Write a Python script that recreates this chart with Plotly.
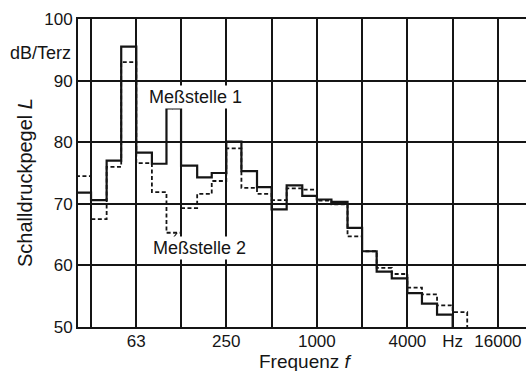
import plotly.graph_objects as go
import math

# Third-octave band lower edges (Hz)
band_lower = [25, 31.5, 40, 50, 63, 80, 100, 125, 160, 200, 250, 315, 400, 500,
              630, 800, 1000, 1250, 1600, 2000, 2500, 3150, 4000, 5000, 6300,
              8000, 10000]

# Meßstelle 1 (solid) levels, dB per third-octave band
level_1 = [71.8, 70.6, 77.0, 95.5, 78.3, 76.5, 85.5, 76.2, 74.3, 75.0, 80.1,
           75.3, 72.7, 69.1, 73.0, 71.3, 70.7, 70.3, 66.1, 62.3, 59.0, 57.9,
           55.5, 53.8, 52.0]
# Meßstelle 2 (dashed)
level_2 = [74.5, 67.5, 76.0, 93.0, 76.6, 71.9, 65.3, 69.3, 71.6, 73.7, 79.0,
           72.6, 71.6, 70.6, 72.5, 72.3, 70.5, 69.9, 64.7, 62.3, 59.6, 58.6,
           56.4, 55.3, 53.5, 52.4]
floor_level = 50

grid_freqs = [31.5, 63, 125, 250, 500, 1000, 2000, 4000, 8000, 16000]
grid_text = ["", "63", "", "250", "", "1000", "", "4000", "Hz", "16000"]
y_ticks = [50, 60, 70, 80, 90, 100]

FONT = "Liberation Sans"
INK = "#151515"


def step_xy(levels):
    n = len(levels)
    xs = band_lower[:n] + [band_lower[n]]
    ys = levels + [floor_level]
    return xs, ys


fig = go.Figure()
x1, y1 = step_xy(level_1)
x2, y2 = step_xy(level_2)
fig.add_trace(go.Scatter(x=x2, y=y2, mode="lines", line_shape="hv",
                         line=dict(color=INK, width=1.8, dash="4px,2.5px"),
                         name="Meßstelle 2"))
fig.add_trace(go.Scatter(x=x1, y=y1, mode="lines", line_shape="hv",
                         line=dict(color=INK, width=2.2),
                         name="Meßstelle 1"))

W, H = 526, 371
ml, mt, mb, mr = 78, 19, 44, 0
pw, ph = W - ml - mr, H - mt - mb


def px(x):
    return (x - ml) / pw


def py(y):
    return (H - mb - y) / ph


fig.update_layout(
    width=W, height=H,
    margin=dict(l=ml, r=mr, t=mt, b=mb, pad=0),
    paper_bgcolor="white", plot_bgcolor="white",
    showlegend=False,
    font=dict(family=FONT, size=17, color=INK),
    xaxis=dict(type="log",
               range=[math.log10(25.8), math.log10(24600)],
               tickvals=grid_freqs, ticktext=grid_text,
               showgrid=True, gridcolor=INK, gridwidth=1.5,
               showline=True, linecolor=INK, linewidth=2, mirror=True,
               ticks="", zeroline=False, ticklabelstandoff=-2,
               tickfont=dict(size=17)),
    yaxis=dict(range=[50, 100], tickvals=y_ticks,
               showgrid=True, gridcolor=INK, gridwidth=1.5,
               showline=True, linecolor=INK, linewidth=2,
               ticks="", zeroline=False,
               tickfont=dict(size=17)),
)

# Axis titles as positioned texts
fig.add_annotation(text="Frequenz <i>f</i>", xref="paper", yref="paper",
                   x=px(305), y=py(362), xanchor="center", yanchor="middle",
                   showarrow=False, font=dict(size=19))
fig.add_annotation(text="Schalldruckpegel <i>L</i>", xref="paper", yref="paper",
                   x=px(25), y=py(183), xanchor="center", yanchor="middle",
                   textangle=-90, showarrow=False, font=dict(size=20))

fig.add_annotation(text="dB/Terz", xref="paper", yref="paper",
                   x=px(73), y=py(53), xanchor="right", yanchor="middle",
                   showarrow=False, font=dict(size=18))
fig.add_annotation(text="Meßstelle 1", xref="paper", yref="paper",
                   x=px(195), y=py(97), xanchor="center", yanchor="middle",
                   showarrow=False, font=dict(size=18), bgcolor="white", borderpad=1)
fig.add_annotation(text="Meßstelle 2", xref="paper", yref="paper",
                   x=px(199), y=py(248), xanchor="center", yanchor="middle",
                   showarrow=False, font=dict(size=18), bgcolor="white", borderpad=1)
fig.add_shape(type="line", xref="paper", yref="paper",
              x0=px(168), y0=py(103), x1=px(173), y1=py(109),
              line=dict(color=INK, width=1.2))
fig.add_shape(type="line", xref="paper", yref="paper",
              x0=px(171.5), y0=py(240), x1=px(177), y1=py(233),
              line=dict(color=INK, width=1.2))

fig.write_html("out.html")
